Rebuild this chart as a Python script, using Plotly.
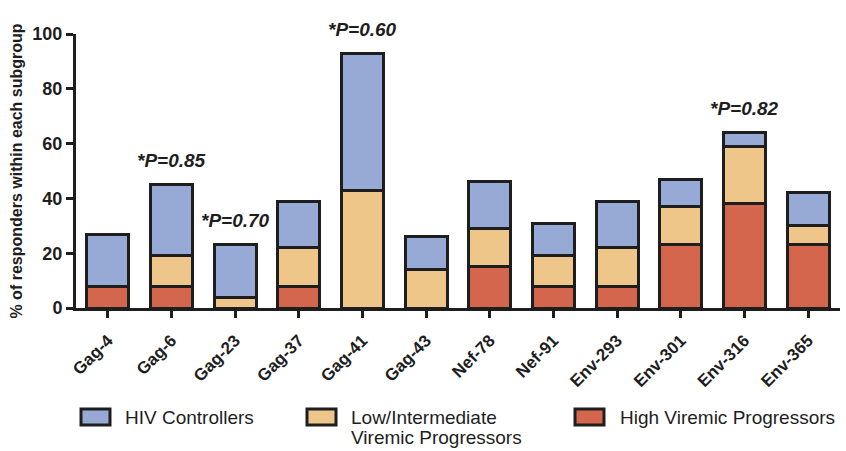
import plotly.graph_objects as go

# Peptide responses, % of responders per subgroup (stacked segments)
peptides = ["Gag-4", "Gag-6", "Gag-23", "Gag-37", "Gag-41", "Gag-43",
            "Nef-78", "Nef-91", "Env-293", "Env-301", "Env-316", "Env-365"]
high_viremic = [8, 8, 0, 8, 0, 0, 15, 8, 8, 23, 38, 23]
low_intermediate = [0, 11, 4, 14, 43, 14, 14, 11, 14, 14, 21, 7]
controllers = [19, 26, 19, 17, 50, 12, 17, 12, 17, 10, 5, 12]

# P-value labels shown above selected bars
pval_peptides = ["Gag-6", "Gag-23", "Gag-41", "Env-316"]
pval_texts = ["*P=0.85", "*P=0.70", "*P=0.60", "*P=0.82"]

group_names = ["High Viremic Progressors", "Low/Intermediate Viremic Progressors", "HIV Controllers"]
group_colors = ["#D3664C", "#EEC68A", "#97AAD5"]

INK = "#1e1e1e"
FONT = "Liberation Sans, Arial, Helvetica, sans-serif"

fig = go.Figure()
for name, vals, col in zip(group_names, [high_viremic, low_intermediate, controllers], group_colors):
    fig.add_trace(go.Bar(
        x=peptides, y=vals, name=name,
        marker=dict(color=col, line=dict(color=INK, width=3)),
        showlegend=False,
    ))

totals = [h + l + c for h, l, c in zip(high_viremic, low_intermediate, controllers)]
for pep, txt in zip(pval_peptides, pval_texts):
    i = peptides.index(pep)
    fig.add_annotation(
        x=pep, y=totals[i], text=f"<b><i>{txt}</i></b>", showarrow=False,
        yanchor="middle", yshift=24,
        font=dict(family=FONT, size=19, color=INK),
    )

# Legend drawn below the axis: swatch boxes plus labels (paper coordinates)
L, PW, T, PH = 76, 764, 34, 274
def px_x(p):
    return (p - L) / PW
def px_y(p):
    return (T + PH - p) / PH

legend_items = [
    (81, 123, ["HIV Controllers"], group_colors[2]),
    (307, 349, ["Low/Intermediate", "Viremic Progressors"], group_colors[1]),
    (575, 618, ["High Viremic Progressors"], group_colors[0]),
]
for bx, tx, lines, col in legend_items:
    fig.add_shape(type="rect", xref="paper", yref="paper",
                  x0=px_x(bx), x1=px_x(bx + 29), y0=px_y(425), y1=px_y(409),
                  fillcolor=col, line=dict(color=INK, width=3))
    for k, line in enumerate(lines):
        fig.add_annotation(xref="paper", yref="paper", x=px_x(tx), y=px_y(417 + 20 * k),
                           xanchor="left", yanchor="middle", align="left",
                           text=line, showarrow=False,
                           font=dict(family=FONT, size=19, color=INK))

fig.update_layout(
    width=846, height=451,
    margin=dict(l=76, r=6, t=34, b=143),
    barmode="stack", bargap=0.34,
    plot_bgcolor="white", paper_bgcolor="white",
    font=dict(family=FONT, color=INK),
)
fig.update_xaxes(
    range=[-0.5, 11.5], showline=True, linecolor=INK, linewidth=3,
    ticks="outside", ticklen=7, tickwidth=2.5, tickcolor=INK,
    tickangle=-45, tickfont=dict(family=FONT, size=17, color=INK),
    ticklabelstandoff=6,
    tickvals=peptides, ticktext=[f"<b>{p}</b>" for p in peptides],
    showgrid=False, zeroline=False,
)
fig.update_yaxes(
    range=[0, 100], tickvals=[0, 20, 40, 60, 80, 100],
    ticktext=[f"<b>{v}</b>" for v in [0, 20, 40, 60, 80, 100]],
    showline=True, linecolor=INK, linewidth=3,
    ticks="outside", ticklen=7, tickwidth=2.5, tickcolor=INK,
    tickfont=dict(family=FONT, size=18, color=INK),
    showgrid=False, zeroline=False,
    title=dict(text="<b>% of responders within each subgroup</b>",
               font=dict(family=FONT, size=16, color=INK), standoff=6),
)

fig.write_html("out.html")
